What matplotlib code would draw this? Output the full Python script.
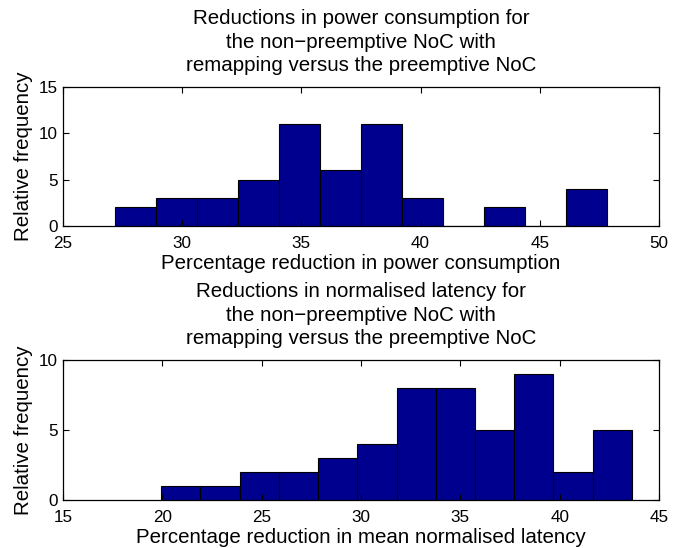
import numpy as np
import matplotlib
matplotlib.use("Agg")
import matplotlib.pyplot as plt

plt.rcParams['font.family'] = ['Liberation Sans', 'DejaVu Sans']

# Top histogram: power consumption reduction
power_range = [27.2, 47.82]
power_counts = [2, 3, 3, 5, 11, 6, 11, 3, 0, 2, 0, 4]
power_xticks = [25, 30, 35, 40, 45, 50]
power_yticks = [0, 5, 10, 15]

# Bottom histogram: normalised latency reduction
lat_range = [19.94, 43.64]
lat_counts = [1, 1, 2, 2, 3, 4, 8, 8, 5, 9, 2, 5]
lat_xticks = [15, 20, 25, 30, 35, 40, 45]
lat_yticks = [0, 5, 10]

title_power = "Reductions in power consumption for\nthe non\u2212preemptive NoC with\nremapping versus the preemptive NoC"
title_lat = "Reductions in normalised latency for\nthe non\u2212preemptive NoC with\nremapping versus the preemptive NoC"
xlabel_power = "Percentage reduction in power consumption"
xlabel_lat = "Percentage reduction in mean normalised latency"
ylabel = "Relative frequency"

BAR = '#00008F'
FS_LABEL = 14.8
FS_TICK = 12.3

fig = plt.figure(figsize=(6.86, 5.48), dpi=100)
ax1 = fig.add_axes([0.0918, 0.5876, 0.8688, 0.2536])
ax2 = fig.add_axes([0.0918, 0.0876, 0.8688, 0.2555])


def draw(ax, rng, counts, xticks, yticks, title, xlabel):
    edges = np.linspace(rng[0], rng[1], len(counts) + 1)
    ax.bar(edges[:-1], counts, width=np.diff(edges), align='edge',
           color=BAR, edgecolor='black', linewidth=0.8)
    ax.set_xlim(xticks[0], xticks[-1])
    ax.set_ylim(yticks[0], yticks[-1])
    ax.set_xticks(xticks)
    ax.set_yticks(yticks)
    ax.tick_params(direction='in', top=True, right=True, labelsize=FS_TICK,
                   length=4.3, width=0.8)
    ax.tick_params(axis='x', pad=7.0)
    ax.tick_params(axis='y', pad=3.6)
    for s in ax.spines.values():
        s.set_linewidth(0.9)
    ax.set_title(title, fontsize=FS_LABEL, linespacing=1.3, pad=11.5)
    ax.set_xlabel(xlabel, fontsize=FS_LABEL, labelpad=2.5)
    ax.set_ylabel(ylabel, fontsize=FS_LABEL, labelpad=4)


draw(ax1, power_range, power_counts, power_xticks, power_yticks, title_power, xlabel_power)
draw(ax2, lat_range, lat_counts, lat_xticks, lat_yticks, title_lat, xlabel_lat)

fig.savefig("out.png", dpi=100)
